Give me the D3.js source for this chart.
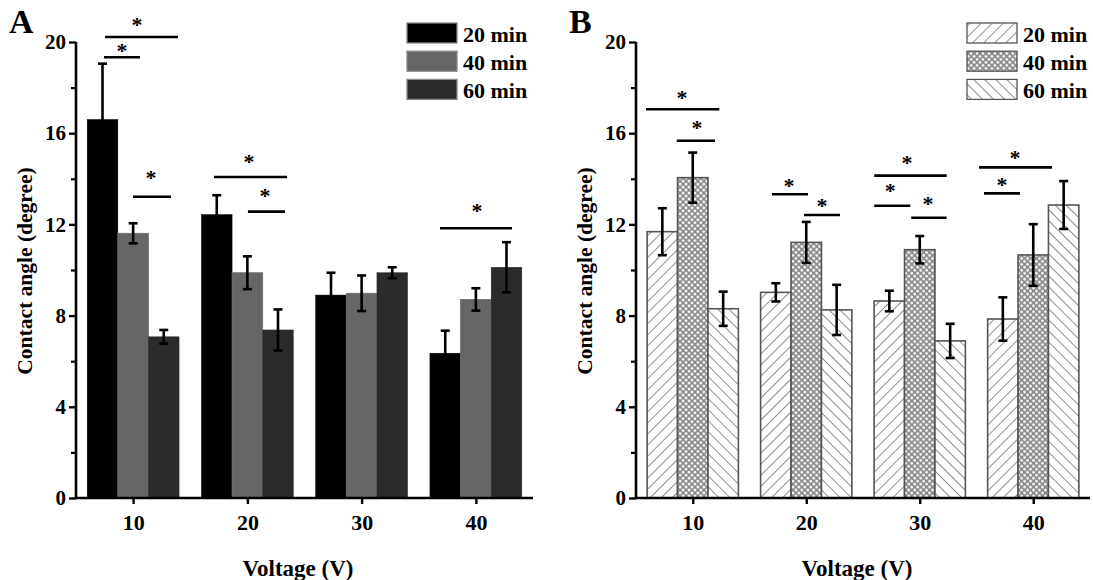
<!DOCTYPE html>
<html><head><meta charset="utf-8">
<script src="https://cdn.jsdelivr.net/npm/d3@7"></script>
<style>
html,body{margin:0;padding:0;background:#fff;}
svg{display:block;}
text{font-family:"Liberation Serif","Times New Roman",serif;font-weight:bold;fill:#000;}
</style></head>
<body>
<svg id="chart" width="1093" height="580"></svg>
<script>
// ---------- data ----------
const voltages = [10, 20, 30, 40];
const seriesNames = ["20 min", "40 min", "60 min"];
const yTicks = [0, 4, 8, 12, 16, 20];
const yMinorTicks = [2, 6, 10, 14, 18];

// Panel A (means, errors)
const a20 = [16.6, 12.43, 8.9, 6.35];
const a20err = [2.45, 0.85, 0.98, 0.99];
const a40 = [11.61, 9.88, 8.98, 8.71];
const a40err = [0.44, 0.72, 0.78, 0.49];
const a60 = [7.07, 7.37, 9.88, 10.12];
const a60err = [0.3, 0.9, 0.24, 1.1];

// Panel B (means, errors)
const b20 = [11.68, 9.02, 8.64, 7.85];
const b20err = [1.03, 0.4, 0.45, 0.95];
const b40 = [14.05, 11.21, 10.89, 10.66];
const b40err = [1.1, 0.9, 0.6, 1.35];
const b60 = [8.3, 8.25, 6.89, 12.85];
const b60err = [0.75, 1.1, 0.75, 1.05];

// significance brackets: [x from (V), x to (V), line level, star x (V), star level]
const sigA = [
  [7.54, 13.93, 20.22, 10.34, 20.88],
  [7.45, 10.6, 19.33, 9.03, 19.74],
  [9.99, 13.31, 13.21, 11.56, 14.17],
  [17.08, 23.47, 14.08, 20.14, 14.87],
  [20.05, 23.29, 12.56, 21.54, 13.38],
  [36.86, 43.16, 11.83, 40.1, 12.72]
];
const sigB = [
  [5.88, 12.34, 17.05, 9.05, 17.68],
  [8.59, 11.96, 15.67, 10.37, 16.36],
  [16.98, 20.15, 13.32, 18.48, 13.82],
  [19.8, 22.97, 12.41, 21.39, 12.94],
  [25.99, 32.37, 14.14, 28.88, 14.82],
  [25.99, 29.16, 12.82, 27.4, 13.6],
  [29.25, 32.37, 12.29, 30.73, 13.03],
  [35.22, 41.65, 14.5, 38.39, 15.04],
  [35.66, 38.83, 13.36, 37.25, 13.86]
];

// ---------- drawing ----------
const svg = d3.select("#chart");
const defs = svg.append("defs");

function hatch(id, angle) {
  const p = defs.append("pattern").attr("id", id)
    .attr("patternUnits", "userSpaceOnUse")
    .attr("width", 7.8).attr("height", 7.8)
    .attr("patternTransform", `rotate(${angle})`);
  p.append("rect").attr("width", 7.8).attr("height", 7.8).attr("fill", "#fff");
  p.append("line").attr("x1", 0).attr("y1", 0).attr("x2", 0).attr("y2", 7.8)
    .attr("stroke", "#6a6a6a").attr("stroke-width", 1.5);
}
hatch("hatchF", 45);
hatch("hatchB", -45);
{
  const p = defs.append("pattern").attr("id", "mesh")
    .attr("patternUnits", "userSpaceOnUse")
    .attr("width", 4.2).attr("height", 4.2)
    .attr("patternTransform", "rotate(45)");
  p.append("rect").attr("width", 4.2).attr("height", 4.2).attr("fill", "#8c8c8c");
  p.append("circle").attr("cx", 2.1).attr("cy", 2.1).attr("r", 1.45).attr("fill", "#f2f2f2");
}

const yRange = [498, 42];
const barW = 2.68; // in volts units

function drawPanel(cfg) {
  const x = d3.scaleLinear().domain([5, 45]).range([cfg.x0, cfg.x1]);
  const y = d3.scaleLinear().domain([0, 20]).range(yRange);
  const g = svg.append("g");

  const series = cfg.series;
  series.forEach((s, i) => {
    const off = (i - 1) * barW;
    const gs = g.append("g");
    gs.selectAll("rect").data(s.values).join("rect")
      .attr("x", (d, k) => x(voltages[k] + off - barW / 2))
      .attr("width", (d, k) => x(voltages[k] + off + barW / 2) - x(voltages[k] + off - barW / 2))
      .attr("y", d => y(d))
      .attr("height", d => y(0) - y(d))
      .attr("fill", s.fill)
      .attr("stroke", s.stroke)
      .attr("stroke-width", s.sw);
  });
  // error bars
  series.forEach((s, i) => {
    const off = (i - 1) * barW;
    const ge = g.append("g").attr("stroke", "#000").attr("stroke-width", 2.6).attr("fill", "none");
    s.values.forEach((v, k) => {
      const cx = x(voltages[k] + off);
      const e = s.err[k];
      ge.append("line").attr("x1", cx).attr("x2", cx).attr("y1", y(v + e)).attr("y2", y(v - e));
      ge.append("line").attr("x1", cx - 4.5).attr("x2", cx + 4.5).attr("y1", y(v + e)).attr("y2", y(v + e));
      ge.append("line").attr("x1", cx - 4.5).attr("x2", cx + 4.5).attr("y1", y(v - e)).attr("y2", y(v - e));
    });
  });

  // y axis
  const yAxis = g.append("g").attr("transform", `translate(${cfg.x0},0)`)
    .call(d3.axisLeft(y).tickValues(yTicks).tickSize(7).tickPadding(3).tickFormat(d3.format("d")));
  yAxis.select(".domain").attr("d", `M0,${y(20)}V${y(0)}`).attr("stroke-width", 2.6);
  yAxis.selectAll(".tick line").attr("stroke-width", 2.4);
  yAxis.selectAll(".tick text").attr("font-size", 21).attr("font-family", null).style("font-family", "Liberation Serif, serif").style("font-weight", "bold");
  const yMinor = g.append("g").attr("transform", `translate(${cfg.x0},0)`)
    .call(d3.axisLeft(y).tickValues(yMinorTicks).tickSize(5).tickFormat(""));
  yMinor.select(".domain").remove();
  yMinor.selectAll(".tick line").attr("stroke-width", 2.2);

  // x axis
  const xAxis = g.append("g").attr("transform", `translate(0,${y(0)})`)
    .call(d3.axisBottom(x).tickValues(voltages).tickSize(6).tickPadding(10).tickFormat(d3.format("d")));
  xAxis.select(".domain").attr("d", `M${cfg.x0},0H${cfg.x1}`).attr("stroke-width", 2.6);
  xAxis.selectAll(".tick line").attr("stroke-width", 2.4);
  xAxis.selectAll(".tick text").attr("font-size", 22).attr("font-family", null).style("font-family", "Liberation Serif, serif").style("font-weight", "bold");

  // axis titles
  g.append("text").attr("x", cfg.xlabelX).attr("y", 576).attr("text-anchor", "middle")
    .attr("font-size", 23).text("Voltage (V)");
  g.append("text").attr("transform", `translate(${cfg.x0 - 44},271) rotate(-90)`)
    .attr("text-anchor", "middle").attr("font-size", 21.5).text("Contact angle (degree)");

  // panel label
  g.append("text").attr("x", cfg.x0 - 67).attr("y", 33).attr("font-size", 34).text(cfg.label);

  // significance
  const gsig = g.append("g");
  cfg.sig.forEach(sg => {
    gsig.append("line").attr("x1", x(sg[0])).attr("x2", x(sg[1]))
      .attr("y1", y(sg[2])).attr("y2", y(sg[2]))
      .attr("stroke", "#000").attr("stroke-width", 2.6);
    gsig.append("text").attr("x", x(sg[3])).attr("y", y(sg[4]) + 10)
      .attr("text-anchor", "middle").attr("font-size", 22).text("*");
  });

  // legend
  const lg = g.append("g");
  series.forEach((s, i) => {
    const ly = 23 + i * 28.2;
    lg.append("rect").attr("x", cfg.legX).attr("y", ly).attr("width", 50).attr("height", 20)
      .attr("fill", s.fill).attr("stroke", s.legStroke).attr("stroke-width", 1.3);
    lg.append("text").attr("x", cfg.legX + 56).attr("y", ly + 18.5)
      .attr("font-size", 22).text(seriesNames[i]);
  });
}

drawPanel({
  x0: 76, x1: 533, label: "A", xlabelX: 298, legX: 407,
  sig: sigA,
  series: [
    {values: a20, err: a20err, fill: "#000000", stroke: "#000000", sw: 0.5, legStroke: "#888"},
    {values: a40, err: a40err, fill: "#666666", stroke: "#6e6e6e", sw: 0.8, legStroke: "#888"},
    {values: a60, err: a60err, fill: "#2b2b2b", stroke: "#2b2b2b", sw: 0.5, legStroke: "#888"}
  ]
});
drawPanel({
  x0: 636, x1: 1090, label: "B", xlabelX: 857, legX: 967,
  sig: sigB,
  series: [
    {values: b20, err: b20err, fill: "url(#hatchF)", stroke: "#555", sw: 1.6, legStroke: "#555"},
    {values: b40, err: b40err, fill: "url(#mesh)", stroke: "#555", sw: 1.6, legStroke: "#555"},
    {values: b60, err: b60err, fill: "url(#hatchB)", stroke: "#555", sw: 1.6, legStroke: "#555"}
  ]
});
</script>
</body></html>
